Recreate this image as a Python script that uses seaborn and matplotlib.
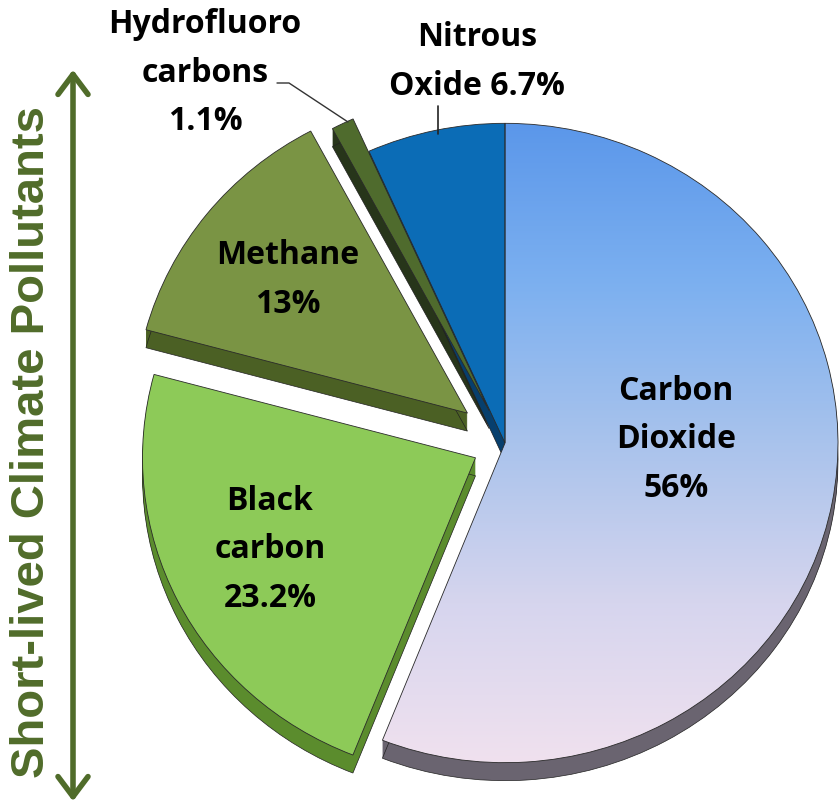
import numpy as np
import matplotlib
matplotlib.use("Agg")
import matplotlib.pyplot as plt
from matplotlib.patches import Wedge, FancyArrowPatch
from matplotlib.colors import LinearSegmentedColormap
import seaborn as sns

# shares of warming, clockwise from 12 o'clock
gases = ["Carbon Dioxide", "Black carbon", "Methane", "Hydrofluorocarbons", "Nitrous Oxide"]
shares = [56, 23.2, 13, 1.1, 6.7]
labels = ["Carbon\nDioxide\n56%", "Black\ncarbon\n23.2%", "Methane\n13%",
          "Hydrofluoro\ncarbons\n1.1%", "Nitrous\nOxide 6.7%"]
side_title = "Short-lived Climate Pollutants"

sns.set_theme(style="white")
plt.rcParams["font.family"] = ["Open Sans", "DejaVu Sans"]

top_colors = [None, "#8dca58", "#7a9444", "#4f6b2d", "#0b6cb6"]
side_colors = ["#6a6470", "#5b8c2d", "#4b6024", "#27351a", "#073f6d"]
explode = [0, 33, 48, 36, 0]          # px
label_pos = [(676, 440), (270, 550), (288, 280), (205, 73), (477, 62)]
olive = "#506c2a"

W, H = 839, 812
k = 0.96                 # vertical squash -> slightly tilted pie
cx, cy_img = 505, 444
R = 333
depth = 18

fig = plt.figure(figsize=(W / 100, H / 100), dpi=100)
ax = fig.add_axes([0, 0, 1, 1])

def img(x, y):
    return x, (H - y) / k

cx, cy = img(cx, cy_img)

# work out angles and exploded centres
geo = []
start = 90.0
for s, e in zip(shares, explode):
    a0 = start
    a1 = start - s * 3.6
    mid = np.radians((a0 + a1) / 2)
    geo.append((a1, a0, cx + e * np.cos(mid), cy + e * np.sin(mid) / k))
    start = a1

# sides (fake 3d thickness)
for (a1, a0, x, y), sc in zip(geo, side_colors):
    for d in np.arange(1, depth + 1, 1.0):
        ax.add_patch(Wedge((x, y - d / k), R, a1, a0, facecolor=sc, lw=0, zorder=1))
    ax.add_patch(Wedge((x, y - depth / k), R, a1, a0, facecolor="none",
                       edgecolor="#222222", lw=0.5, zorder=1.5))

# top faces
for (a1, a0, x, y), tc in zip(geo, top_colors):
    if tc is None:
        w = Wedge((x, y), R, a1, a0, facecolor="none", edgecolor="#2a2a2a", lw=0.6, zorder=4)
        ax.add_patch(w)
        cmap = LinearSegmentedColormap.from_list(
            "co2", ["#5b97ea", "#7cb0f0", "#a9c3ec", "#d6d5ee", "#f0e1ee"])
        grad = np.linspace(1, 0, 256).reshape(-1, 1)
        im = ax.imshow(grad, extent=[x - R, x + R, y - R, y + R], cmap=cmap,
                       aspect="auto", origin="lower", zorder=3)
        im.set_clip_path(w)
    else:
        ax.add_patch(Wedge((x, y), R, a1, a0, facecolor=tc, edgecolor="#2a2a2a",
                           lw=0.6, zorder=3))

for lab, (lx, ly) in zip(labels, label_pos):
    ax.text(*img(lx, ly), lab, ha="center", va="center", fontsize=23,
            fontweight="bold", color="black", linespacing=1.62, zorder=6)

# leader lines
ax.plot(*zip(img(277, 84), img(289, 84), img(348, 123)), color="#333333", lw=1, zorder=5)
ax.plot(*zip(img(438, 107), img(438, 135)), color="#222222", lw=1.2, zorder=5)

# left arrow and title
arr = FancyArrowPatch(img(73, 805), img(73, 68), arrowstyle="<->,head_length=1.2,head_width=0.9",
                      color=olive, lw=4, mutation_scale=12, zorder=5)
ax.add_patch(arr)
ax.text(*img(32, 442), side_title, rotation=90, ha="center", va="center",
        fontsize=34, fontweight="bold", color=olive,
        family=["Liberation Sans", "DejaVu Sans"])

ax.set_xlim(0, W)
ax.set_ylim(0, H / k)
ax.set_aspect("auto")
ax.axis("off")
fig.savefig("out.png", dpi=100, facecolor="white")
